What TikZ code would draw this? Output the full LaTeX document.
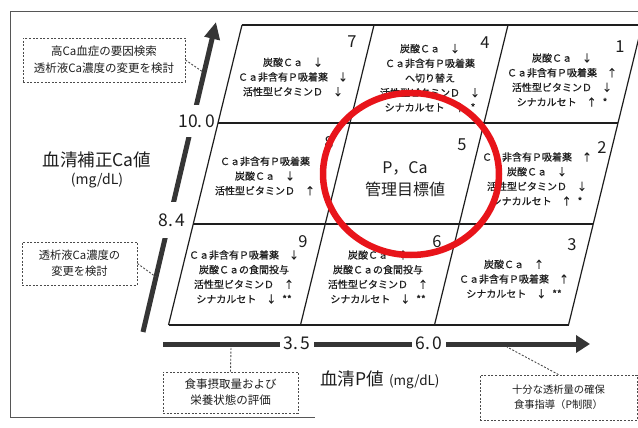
\documentclass[tikz,border=0pt]{standalone}
\usepackage{fontspec}
\setmainfont{Noto Sans CJK JP}
\newfontfamily\cellfont[FakeBold=0.7]{Noto Sans CJK JP}
\usetikzlibrary{arrows.meta,calc}
\definecolor{circred}{RGB}{232,20,26}
\definecolor{ink}{RGB}{30,30,30}
\newcommand\myup{\hspace{10pt}↑}
\newcommand\mydn{\hspace{10pt}↓}
\newcommand\sone{\hspace{6pt}*}
\newcommand\stwo{\hspace{6pt}**}
\begin{document}
\begin{tikzpicture}[x=1pt,y=-1pt,
  gridline/.style={draw=ink,line width=1.2pt},
  frameline/.style={draw=ink!75,line width=1pt},
  celltext/.style={align=center,font=\cellfont\fontsize{10}{14.7}\selectfont,inner sep=0pt,text=ink},
  cellnum/.style={font=\fontsize{16.5}{16.5}\selectfont,inner sep=0pt,text=ink},
  axislbl/.style={font=\fontsize{17.5}{17.5}\selectfont,fill=white,text=ink},
  axisline/.style={draw=ink!90,line width=5pt},
  notebox/.style={draw=ink!80,dash pattern=on 2pt off 1.6pt,line width=0.9pt,align=center,inner sep=0pt,text=ink},
  noteline/.style={draw=ink!80,dash pattern=on 2pt off 1.6pt,line width=0.9pt},
]
\useasboundingbox (0,0) rectangle (638,428);
\clip (0,0) rectangle (638,428);
\fill[white] (0,0) rectangle (638,428);

% outer frame
\draw[frameline] (660,12) -- (10,12) -- (10,417) -- (315,417);

% axes
\coordinate (vbot) at (143,332);
\coordinate (vtop) at (216,22);
\draw[axisline,-{Triangle[length=17pt,width=15pt]}] (vbot) -- (vtop);
\coordinate (hbot) at (163,344);
\coordinate (htip) at (590,344);
\draw[axisline,-{Triangle[length=14pt,width=17pt]}] (hbot) -- (htip);

\node[axislbl,inner xsep=1pt,inner ysep=10pt] (l100) at (197,121) {10.\,0};
\node[axislbl,inner xsep=1pt,inner ysep=12pt] (l84) at (172,220) {8.\,4};
\node[axislbl,inner xsep=3pt,inner ysep=1pt] (l35) at (297,343) {3.\,5};
\node[axislbl,inner xsep=3pt,inner ysep=1pt] (l60) at (429,343) {6.\,0};

% grid
\coordinate (A0) at (242,25);   \coordinate (A1) at (218,123);
\coordinate (A2) at (193.2,224);\coordinate (A3) at (168.5,325);
\coordinate (B0) at (374,25);   \coordinate (B3) at (300.5,325);
\coordinate (C0) at (508,25);   \coordinate (C3) at (434.5,325);
\coordinate (D0) at (642,25);   \coordinate (D1) at (618,123);
\coordinate (D2) at (593.2,224);\coordinate (D3) at (568.5,325);
\draw[gridline] (A0) -- (A3) (B0) -- (B3) (C0) -- (C3) (D0) -- (D3);
\draw[gridline] (A0) -- (D0) (A1) -- (D1) (A2) -- (D2) (A3) -- (D3);

% cell texts
\node[celltext] (c7) at (293,77) {炭酸Ｃａ\mydn\\Ｃａ非含有Ｐ吸着薬\mydn\\活性型ビタミンＤ\mydn};
\node[celltext] (c4) at (430,78) {炭酸Ｃａ\mydn\\Ｃａ非含有Ｐ吸着薬\\へ切り替え\hspace*{26pt}\\活性型ビタミンＤ\mydn\\シナカルセト\myup\sone};
\node[celltext] (c1) at (562,80) {炭酸Ｃａ\mydn\\Ｃａ非含有Ｐ吸着薬\myup\\活性型ビタミンＤ\mydn\\シナカルセト\myup\sone};
\node[celltext] (c8) at (265,176) {Ｃａ非含有Ｐ吸着薬\\炭酸Ｃａ\mydn\\活性型ビタミンＤ\myup};
\node[celltext,font=\fontsize{16}{22}\selectfont] (c5) at (405,179) {P，Ca\\管理目標値};
\node[celltext] (c2) at (537,179) {Ｃａ非含有Ｐ吸着薬\myup\\炭酸Ｃａ\mydn\\活性型ビタミンＤ\mydn\\シナカルセト\myup\sone};
\node[celltext] (c9) at (244,277) {Ｃａ非含有Ｐ吸着薬\mydn\\炭酸Ｃａの食間投与\\活性型ビタミンＤ\myup\\シナカルセト\mydn\stwo};
\node[celltext] (c6) at (378,277) {炭酸Ｃａ\myup\\炭酸Ｃａの食間投与\\活性型ビタミンＤ\myup\\シナカルセト\mydn\stwo};
\node[celltext] (c3) at (514,279) {炭酸Ｃａ\myup\\Ｃａ非含有Ｐ吸着薬\myup\\シナカルセト\mydn\stwo};

% cell numbers
\node[cellnum] (n7) at (352,42) {7};
\node[cellnum] (n4) at (485,43) {4};
\node[cellnum] (n1) at (620,47) {1};
\node[cellnum] (n8) at (329,143) {8};
\node[cellnum] (n5) at (462,145) {5};
\node[cellnum] (n2) at (602,148) {2};
\node[cellnum] (n9) at (303,242) {9};
\node[cellnum] (n6) at (437,242) {6};
\node[cellnum] (n3) at (572,245) {3};

% axis titles
\node[font=\fontsize{17.5}{17.5}\selectfont,text=ink,inner sep=0pt] (ylab) at (97,160) {血清補正Ca値};
\node[font=\fontsize{14}{14}\selectfont,text=ink,inner sep=0pt] (yunit) at (97,181) {(mg/dL)};
\node[text=ink,inner sep=0pt,anchor=base] (xlab) at (380,385) {{\fontsize{17.5}{17.5}\selectfont 血清P値}\hspace{5pt}{\fontsize{13.5}{13.5}\selectfont (mg/dL)}};

% note boxes
\node[notebox,minimum width=162pt,minimum height=44pt,font=\fontsize{11.5}{17}\selectfont] (box1) at (104,60) {高Ca血症の要因検索\\透析液Ca濃度の変更を検討};
\node[notebox,minimum width=115pt,minimum height=43pt,font=\fontsize{11.3}{16}\selectfont] (box2) at (79.5,263.5) {透析液Ca濃度の\\変更を検討};
\node[notebox,minimum width=135pt,minimum height=41pt,font=\fontsize{11.5}{16}\selectfont] (box3) at (230.5,392.5) {食事摂取量および\\栄養状態の評価};
\node[notebox,minimum width=157pt,minimum height=45pt,font=\fontsize{10.3}{15}\selectfont] (box4) at (558.5,397.5) {十分な透析量の確保\\食事指導（P制限）};

\coordinate (a1) at (203,72);
\coordinate (a2) at (156,277);
\coordinate (a3) at (231,347);
\coordinate (a4) at (507,347);
\draw[noteline] (box1.east) -- (a1);
\draw[noteline] (box2.east) -- (a2);
\draw[noteline] (box3.north) -- (a3);
\draw[noteline] (box4.north) -- (a4);

% red circle
\draw[circred,line width=6.5pt] (411,174) ellipse [x radius=88pt, y radius=81pt];
\end{tikzpicture}
\end{document}
